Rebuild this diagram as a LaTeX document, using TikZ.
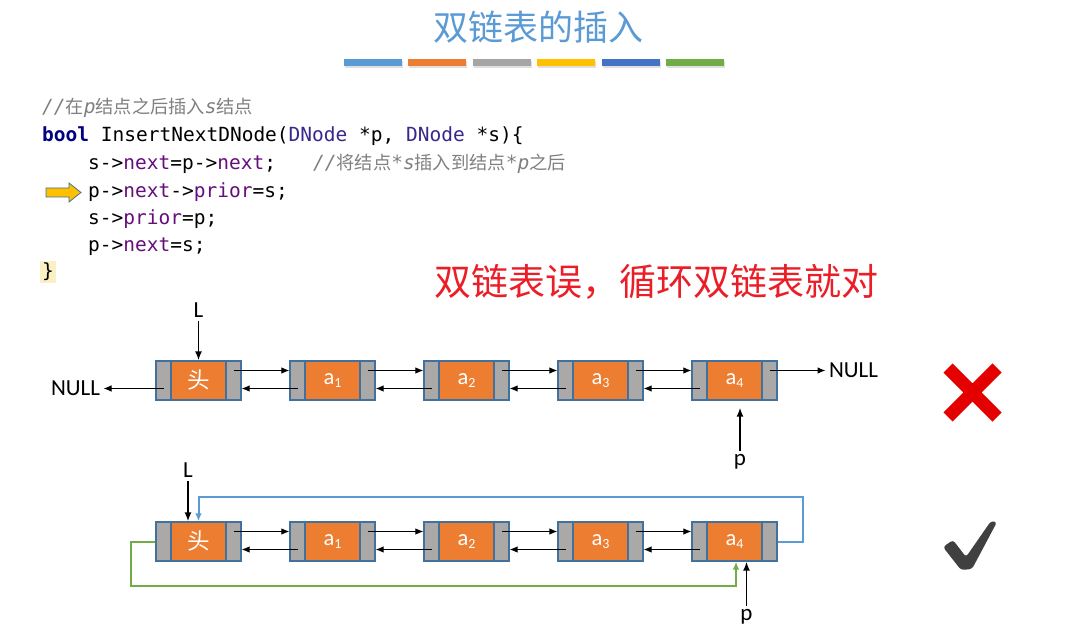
\documentclass[tikz,border=0pt]{standalone}
\usepackage{fontspec}
\setmainfont{Carlito}
\newfontfamily\cjk{Noto Sans CJK SC}
\newfontfamily\codefont{DejaVu Sans Mono}
\usepackage{xcolor}
\usetikzlibrary{positioning,arrows.meta}

\definecolor{titleblue}{RGB}{91,155,213}
\definecolor{barorange}{RGB}{237,125,49}
\definecolor{bargray}{RGB}{165,165,165}
\definecolor{baryellow}{RGB}{255,192,0}
\definecolor{bardeep}{RGB}{68,114,196}
\definecolor{bargreen}{RGB}{112,173,71}
\definecolor{cellgray}{RGB}{171,168,168}
\definecolor{celledge}{RGB}{65,113,156}
\definecolor{warnred}{RGB}{235,30,40}
\definecolor{crossred}{RGB}{228,0,0}
\definecolor{checkgray}{RGB}{64,64,64}
\definecolor{kwnavy}{RGB}{0,0,128}
\definecolor{fieldpurple}{RGB}{102,14,122}
\definecolor{typeblue}{RGB}{55,40,140}
\definecolor{cmtgray}{RGB}{128,128,128}
\definecolor{hlyellow}{RGB}{250,240,195}

\newcommand{\lsub}[1]{\raisebox{-2.5pt}{\fontsize{14}{14}\selectfont #1}}
\newcommand{\cmtcjk}{\cjk\fontsize{18.2}{18.2}\selectfont}

\begin{document}
\begin{tikzpicture}[x=1pt, y=-1pt,
  side/.style={draw=celledge, fill=cellgray, line width=1.3pt, minimum width=15pt, minimum height=39pt, inner sep=0pt},
  core/.style={draw=celledge, fill=barorange, line width=1.3pt, minimum width=55pt, minimum height=39pt, inner sep=0pt, text=white, font=\fontsize{22.5}{22.5}\selectfont},
  link/.style={line width=1pt, -{Latex[length=8pt,width=6.5pt]}},
  ptr/.style={line width=1.6pt, -{Latex[length=9pt,width=7pt]}},
  lbl/.style={font=\fontsize{23}{23}\selectfont},
  code/.style={anchor=base west, inner sep=0pt, font=\codefont\fontsize{19.5}{19.5}\selectfont},
  cmt/.style={anchor=base west, inner sep=0pt, text=cmtgray, font=\codefont\itshape\fontsize{19.5}{19.5}\selectfont}]
\useasboundingbox (0,0) rectangle (1079,636);
\fill[white] (0,0) rectangle (1079,636);
% title and colour bars
\node[text=titleblue, font=\cjk\fontsize{35}{35}\selectfont] (ttl) at (538,27) {双链表的插入};
\foreach \c [count=\k from 0] in {titleblue,barorange,bargray,baryellow,bardeep,bargreen} {
  \fill[black!12] (345+\k*64.4,61) rectangle ++(58,7);
  \fill[\c] (344+\k*64.4,59) rectangle ++(58,7);
}
% code
\node[cmt] (cm1) at (42,114) {//{\cmtcjk 在}p{\cmtcjk 结点之后插入}s{\cmtcjk 结点}};
\node[code] (c2) at (42,142) {\textcolor{kwnavy}{\bfseries bool} InsertNextDNode(\textcolor{typeblue}{DNode} *p, \textcolor{typeblue}{DNode} *s)\{};
\node[code] (c3) at (88,170) {s->\textcolor{fieldpurple}{next}=p->\textcolor{fieldpurple}{next};};
\node[cmt] (cm3) at (313,170) {//{\cmtcjk 将结点}*s{\cmtcjk 插入到结点}*p{\cmtcjk 之后}};
\node[code] (c4) at (88,198) {p->\textcolor{fieldpurple}{next}->\textcolor{fieldpurple}{prior}=s;};
\node[code] (c5) at (88,225) {s->\textcolor{fieldpurple}{prior}=p;};
\node[code] (c6) at (88,252) {p->\textcolor{fieldpurple}{next}=s;};
\node[code, fill=hlyellow, inner sep=2pt] (c7) at (40,278) {\}};
\filldraw[fill=baryellow, draw=celledge, line width=0.8pt] (46,188) -- (69,188) -- (69,183) -- (81,192.5) -- (69,202) -- (69,197) -- (46,197) -- cycle;
% remark
\node[text=warnred, font=\cjk\fontsize{37}{37}\selectfont] (note) at (656,282) {双链表误，循环双链表就对};
% the two lists
\foreach \r/\cy in {t/380.5,b/541.5} {
  \foreach \nm/\cx/\txt in {h/198.5/{\cjk 头}, a1/332.5/{a\lsub{1}}, a2/466.5/{a\lsub{2}}, a3/600.5/{a\lsub{3}}, a4/734.5/{a\lsub{4}}} {
    \node[core] (\r-\nm) at (\cx,\cy) {\txt};
    \node[side] (\r-\nm-l) at (\cx-35,\cy) {};
    \node[side] (\r-\nm-r) at (\cx+35,\cy) {};
  }
  \foreach \i/\j in {h/a1,a1/a2,a2/a3,a3/a4} {
    \draw[link] ([yshift=10pt]\r-\i-r.center) -- ([yshift=10pt]\r-\j-l.west);
    \draw[link] ([yshift=-8pt]\r-\j-l.center) -- ([yshift=-8pt]\r-\i-r.east);
  }
}
% plain list: NULL at both ends
\node[lbl] (null-l) at (75.5,388.5) {NULL};
\node[lbl] (null-r) at (853.5,370.5) {NULL};
\draw[link] ([yshift=-8pt]t-h-l.center) -- (null-l.east);
\draw[link] ([yshift=10pt]t-a4-r.center) -- (null-r.west);
\node[lbl] (l-top) at (198.5,310) {L};
\draw[ptr] (l-top) -- (t-h.north);
\node[lbl] (p-top) at (740,462) {p};
\draw[ptr, shorten >=7pt] (p-top) -- (p-top |- t-a4.south);
% circular list
\node[lbl] (l-bot) at (188,470) {L};
\draw[ptr] (l-bot) -- (l-bot |- b-h.north);
\node[lbl] (p-bot) at (746.5,617) {p};
\draw[ptr] (p-bot) -- (p-bot |- b-a4.south);
\draw[titleblue, line width=2pt, -{Latex[length=8pt,width=6.5pt]}] (b-a4-r.east) -- ++(25,0) |- ([yshift=24pt]b-h.north) -- (b-h.north);
\draw[bargreen, line width=2pt, -{Latex[length=8pt,width=6.5pt]}] (b-h-l.west) -- ++(-24,0) |- ([shift={(1.5pt,-24pt)}]b-a4.south) -- ([xshift=1.5pt]b-a4.south);
% marks
\draw[crossred, line width=13pt] (948,368) -- (997,417) (948,417) -- (997,368);
\fill[checkgray, rounded corners=3pt] (943,547) -- (953,540) -- (966,557) -- (991,521) -- (997,522) -- (972,569) -- (961,570) -- cycle;
\end{tikzpicture}
\end{document}
